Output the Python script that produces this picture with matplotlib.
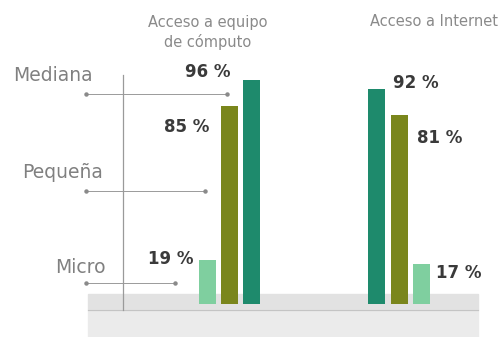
import matplotlib.pyplot as plt
from matplotlib.patches import Rectangle

# Access to IT by company size (%)
groups = ["Acceso a equipo\nde cómputo", "Acceso a Internet"]
sizes = ["Micro", "Pequeña", "Mediana"]
equipo = [19, 85, 96]
internet = [17, 81, 92]
size_colors = {"Micro": "#7fcf9f", "Pequeña": "#7a861c", "Mediana": "#1e8a6c"}

plt.rcParams["font.family"] = ["DejaVu Sans"]

fig = plt.figure(figsize=(5.04, 3.37), dpi=100)
ax = fig.add_axes([0, 0, 1, 1])
# x in pixel-like units, y in percent with baseline near the bottom
ax.set_xlim(0, 504)
ax.set_ylim(-14.1, 130.3)
ax.axis("off")

px = 100 / 233.3  # percent per pixel vertically

# gray shelf under the bars
ax.add_patch(Rectangle((88, -14.1), 390, 14.1 - 6 * px, color="#ebebeb", zorder=0))
ax.add_patch(Rectangle((88, -6 * px), 390, 16 * px, color="#e2e2e2", zorder=0))
ax.plot([88, 478], [-6 * px, -6 * px], color="#c4c4c4", lw=0.8, zorder=1)

# bars: left group ordered Micro->Mediana, right group Mediana->Micro
bw = 17
left_x = [207.5, 229.5, 251.5]
right_x = [376.5, 399, 421]
for s, v, x in zip(sizes, equipo, left_x):
    ax.bar(x, v, width=bw, color=size_colors[s], zorder=2)
for s, v, x in zip(sizes[::-1], internet[::-1], right_x):
    ax.bar(x, v, width=bw, color=size_colors[s], zorder=2)

# value labels
lab_kw = dict(fontsize=12, fontweight="bold", color="#3a3a3a", ha="center", va="center")
ax.text(171, (304 - 259) * px, f"{equipo[0]} %", **lab_kw)
ax.text(187, (304 - 127) * px, f"{equipo[1]} %", **lab_kw)
ax.text(208, (304 - 72) * px, f"{equipo[2]} %", **lab_kw)
ax.text(416, (304 - 83) * px, f"{internet[2]} %", **lab_kw)
ax.text(440, (304 - 138) * px, f"{internet[1]} %", **lab_kw)
ax.text(459, (304 - 273) * px, f"{internet[0]} %", **lab_kw)

# group headers
hd_kw = dict(fontsize=10.5, color="#8a8a8a", ha="center", va="center")
ax.text(208, (304 - 32.5) * px, groups[0], linespacing=1.3, **hd_kw)
ax.text(434, (304 - 22) * px, groups[1], **hd_kw)

# size labels with dotted-end guide lines
ax.plot([123, 123], [(304 - 75) * px, -6 * px], color="#9a9a9a", lw=0.9, zorder=1)
guides = [("Mediana", 53, 75, 94, 227), ("Pequeña", 63, 172, 191, 205), ("Micro", 80, 267, 283, 175)]
for name, tx, ty, gy, gx in guides:
    ax.text(tx, (304 - ty) * px, name, fontsize=13.5, color="#808080", ha="center",
            va="center")
    y = (304 - gy) * px
    ax.plot([86, gx], [y, y], color="#9a9a9a", lw=0.7, zorder=1)
    ax.plot([86, gx], [y, y], "o", color="#8a8a8a", ms=2.2, zorder=1)

fig.savefig("out.png", dpi=100)
